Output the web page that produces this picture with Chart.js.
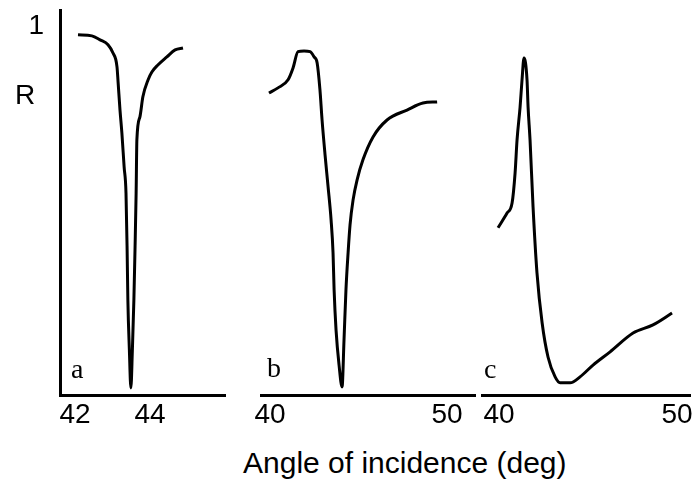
<!DOCTYPE html>
<html>
<head>
<meta charset="utf-8">
<script src="https://cdn.jsdelivr.net/npm/chart.js@4.4.1/dist/chart.umd.min.js"></script>
<style>
    body { margin: 0; background: #fff; }
    #page { position: relative; width: 698px; height: 486px; overflow: hidden; background: #fff; }
    .panel { position: absolute; top: 0; }
    .txt { position: absolute; color: #000; line-height: 1; white-space: nowrap; }
    .sans { font-family: "Liberation Sans", Arial, sans-serif; font-size: 28px; }
    .serif { font-family: "Liberation Serif", "Times New Roman", serif; font-size: 28px; }
</style>
</head>
<body>
<div id="page">
    <div class="panel" style="left:0px;"><canvas id="chart-a" width="240" height="440"></canvas></div>
    <div class="panel" style="left:230px;"><canvas id="chart-b" width="260" height="440"></canvas></div>
    <div class="panel" style="left:470px;"><canvas id="chart-c" width="228" height="440"></canvas></div>

    <div class="txt sans" style="left:15px; top:81px;">R</div>
    <div class="txt serif" style="left:71px; top:355px;">a</div>
    <div class="txt serif" style="left:267px; top:354px;">b</div>
    <div class="txt serif" style="left:484px; top:355px;">c</div>
    <div class="txt sans" style="left:243px; top:448px; font-size:30px;">Angle of incidence (deg)</div>
</div>

<script>
// reflectance curves (angle in deg, R)
const angleA = [42.08, 42.45, 42.67, 42.88, 43.01, 43.12, 43.15, 43.20, 43.25, 43.31, 43.36, 43.39, 43.41, 43.45, 43.49,
                43.53, 43.57, 43.60, 43.63, 43.65, 43.73, 43.81, 43.95, 44.05, 44.21, 44.45, 44.67, 44.88];
const reflA  = [0.976, 0.973, 0.962, 0.949, 0.927, 0.889, 0.846, 0.772, 0.710, 0.618, 0.547, 0.393, 0.257, 0.122, 0.019,
                0.122, 0.257, 0.393, 0.547, 0.691, 0.753, 0.808, 0.854, 0.875, 0.894, 0.916, 0.935, 0.940];

const angleB = [39.94, 40.45, 41.02, 41.30, 41.58, 41.92, 42.26, 42.49, 42.66, 42.82, 42.94, 43.11, 43.28, 43.45, 43.56,
                43.62, 43.73, 43.90, 44.07, 44.18, 44.29, 44.41, 44.52, 44.69, 44.92, 45.25, 45.82, 46.61, 47.74, 48.64, 49.44];
const reflB  = [0.818, 0.832, 0.854, 0.886, 0.930, 0.932, 0.930, 0.916, 0.900, 0.827, 0.745, 0.650, 0.564, 0.474, 0.385,
                0.285, 0.176, 0.081, 0.022, 0.149, 0.285, 0.385, 0.461, 0.528, 0.583, 0.637, 0.699, 0.745, 0.772, 0.791, 0.794];

const angleC = [39.94, 40.45, 40.73, 40.90, 41.01, 41.18, 41.29, 41.40, 41.57, 41.63, 41.74, 41.91, 42.13, 42.42, 42.75,
                43.15, 43.43, 43.99, 44.55, 45.28, 46.24, 47.53, 48.65, 49.72];
const reflC  = [0.453, 0.493, 0.520, 0.602, 0.691, 0.780, 0.854, 0.913, 0.854, 0.780, 0.691, 0.509, 0.331, 0.195, 0.103,
                0.049, 0.033, 0.033, 0.049, 0.081, 0.117, 0.168, 0.190, 0.222];

// axis ticks
const ticksA = [42, 44];
const ticksB = [40, 50];
const ticksC = [40, 50];
const ticksR = [1];

const sansFont = { family: '"Liberation Sans", Arial, sans-serif', size: 28 };

function makePanel(canvasId, angles, refl, xTicks, xMin, xMax, pad, showR) {
    const points = angles.map(function (a, i) { return { x: a, y: refl[i] }; });
    const ctx = document.getElementById(canvasId).getContext('2d');
    return new Chart(ctx, {
        type: 'line',
        data: {
            datasets: [{
                data: points,
                borderColor: '#000',
                borderWidth: 3,
                pointRadius: 0,
                fill: false,
                cubicInterpolationMode: 'monotone'
            }]
        },
        options: {
            responsive: false,
            animation: false,
            layout: { padding: pad },
            plugins: { legend: { display: false }, tooltip: { enabled: false } },
            scales: {
                x: {
                    type: 'linear',
                    min: xMin,
                    max: xMax,
                    grid: { display: false, drawTicks: false },
                    border: { display: true, color: '#000', width: 3 },
                    ticks: { color: '#000', font: sansFont, padding: 3, maxRotation: 0 },
                    afterBuildTicks: function (s) { s.ticks = xTicks.map(function (v) { return { value: v }; }); },
                    afterFit: function (s) { s.height = 45; }
                },
                y: {
                    display: showR,
                    min: 0,
                    max: 1.043,
                    grid: { display: false, drawTicks: false },
                    border: { display: true, color: '#000', width: 3 },
                    ticks: { color: '#000', font: sansFont, padding: 16 },
                    afterBuildTicks: function (s) { s.ticks = ticksR.map(function (v) { return { value: v }; }); },
                    afterFit: function (s) {
                        if (!showR) return;
                        s.width = 60;
                        s.paddingTop = 0;
                        s.paddingBottom = 0;
                    }
                }
            }
        }
    });
}

makePanel('chart-a', angleA, reflA, ticksA, 41.6, 46.0, { left: 0, right: 15, top: 10, bottom: 0 }, true);
makePanel('chart-b', angleB, reflB, ticksB, 39.49, 51.58, { left: 31, right: 15, top: 10, bottom: 0 }, false);
makePanel('chart-c', angleC, reflC, ticksC, 39.04, 50.73, { left: 12, right: 8, top: 10, bottom: 0 }, false);
</script>
</body>
</html>
